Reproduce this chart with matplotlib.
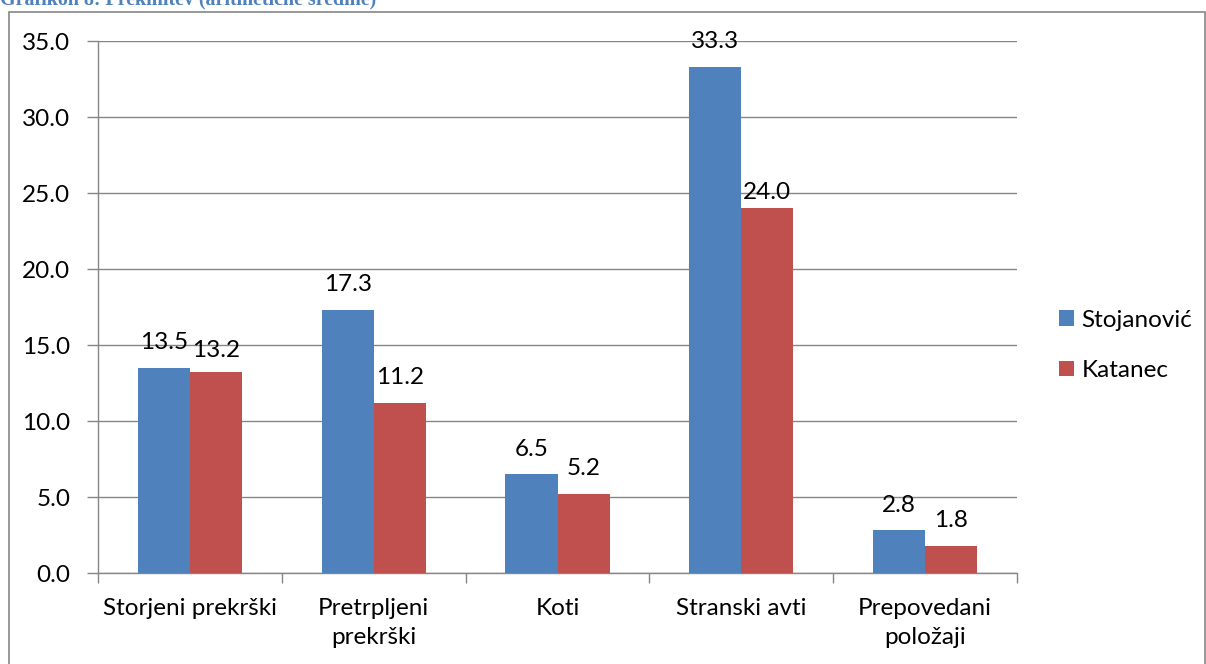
import matplotlib
matplotlib.use("Agg")
import matplotlib.pyplot as plt
from matplotlib.patches import Rectangle
import numpy as np

categories = ["Storjeni prekrški", "Pretrpljeni\nprekrški", "Koti", "Stranski avti", "Prepovedani\npoložaji"]
stojanovic = [13.5, 17.3, 6.5, 33.3, 2.8]
katanec = [13.2, 11.2, 5.2, 24.0, 1.8]
series_names = ["Stojanović", "Katanec"]
y_ticks = [0, 5, 10, 15, 20, 25, 30, 35]

BLUE = "#4F81BD"
RED = "#C0504D"
GRID = "#868686"
FS = 17.5

plt.rcParams["font.family"] = ["Lato", "DejaVu Sans"]

fig = plt.figure(figsize=(12.06, 6.64), dpi=100)
ax = fig.add_axes([98 / 1206, 91 / 664, 919 / 1206, 532 / 664])

x = np.arange(len(categories))
w = 0.283
b1 = ax.bar(x - w / 2, stojanovic, w, color=BLUE, label=series_names[0], zorder=3)
b2 = ax.bar(x + w / 2, katanec, w, color=RED, label=series_names[1], zorder=3)

# value labels; a few sit a little closer to their bar
label_lift = {(1, 0): 8.5, (1, 3): 3.5}
for si, (bars, vals) in enumerate(((b1, stojanovic), (b2, katanec))):
    for ci, (r, v) in enumerate(zip(bars, vals)):
        ax.annotate(f"{v:.1f}", (r.get_x() + r.get_width() / 2, v),
                    xytext=(0, label_lift.get((si, ci), 10.5)),
                    textcoords="offset points",
                    ha="center", va="bottom", fontsize=FS, color="#000000")

ax.set_xlim(-0.5, len(categories) - 0.5)
ax.set_ylim(0, 35)
ax.set_yticks(y_ticks)
ax.set_yticklabels([f"{t:.1f}" for t in y_ticks], fontsize=FS)
ax.yaxis.grid(True, color=GRID, linewidth=1)
ax.set_axisbelow(True)

ax.set_xticks(x)
ax.set_xticklabels(categories, fontsize=FS, linespacing=1.45)
ax.tick_params(axis="x", length=0, pad=18)
ax.set_xticks(np.arange(len(categories) + 1) - 0.5, minor=True)
ax.tick_params(axis="x", which="minor", length=7, color=GRID, width=1)
ax.tick_params(axis="y", length=8, color=GRID, width=1, pad=12)

for s in ("top", "right"):
    ax.spines[s].set_visible(False)
for s in ("left", "bottom"):
    ax.spines[s].set_color(GRID)
    ax.spines[s].set_linewidth(1)

leg = fig.legend(handles=[b1, b2], labels=series_names, loc="upper left",
                 bbox_to_anchor=(1037 / 1206, 1 - 288 / 664), frameon=False,
                 fontsize=FS, handlelength=0.63, handleheight=0.63,
                 handletextpad=0.3, labelspacing=1.2)

# outer chart frame
fig.add_artist(Rectangle((9 / 1206, -0.05), 1196 / 1206, 1.05 - 12 / 664,
                         transform=fig.transFigure, fill=False,
                         edgecolor=GRID, linewidth=1.2))

fig.text(0.0, 1.0 + 1 / 664, "Grafikon 8: Prekinitev (aritmetične sredine)",
         ha="left", va="center", fontsize=14.4, fontweight="bold",
         family=["Liberation Serif", "DejaVu Serif"], color=BLUE)

fig.savefig("out.png", dpi=100)
